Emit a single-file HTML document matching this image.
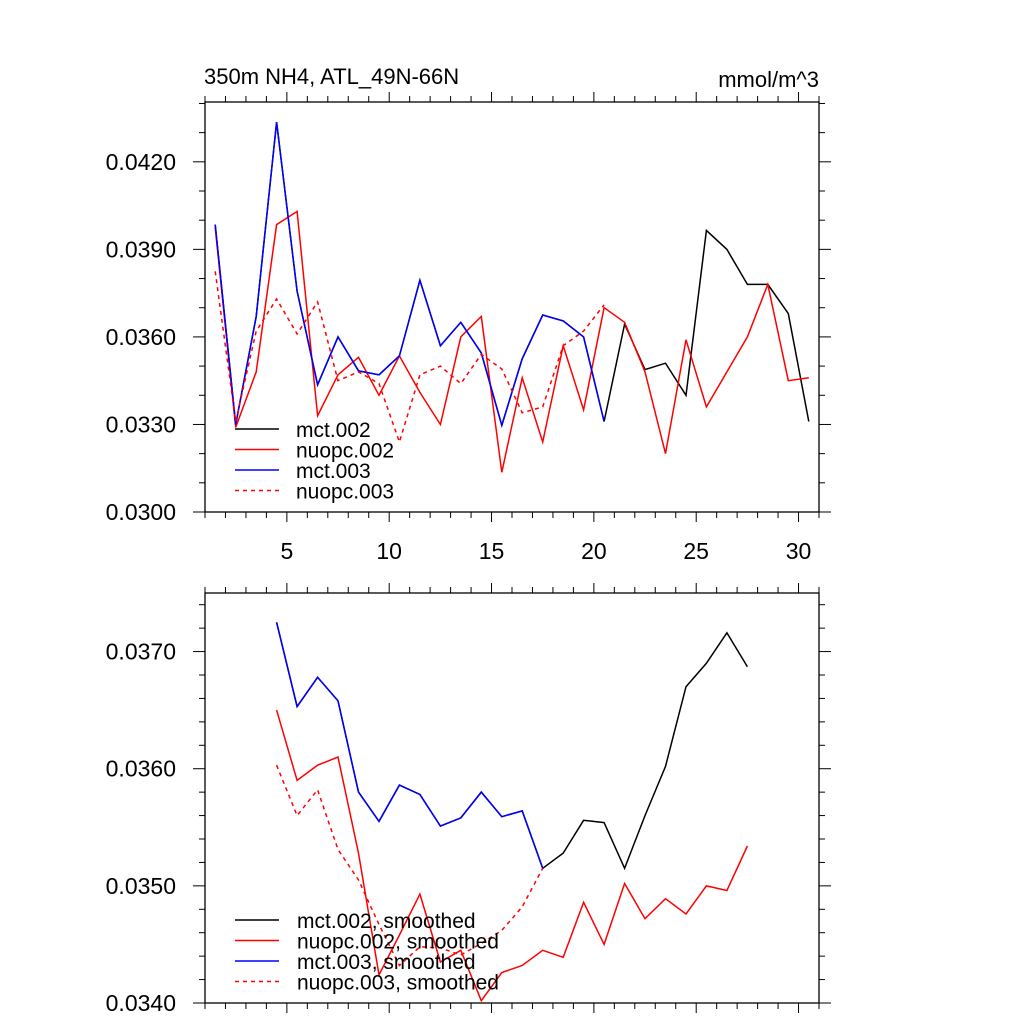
<!DOCTYPE html>
<html><head><meta charset="utf-8"><style>
body{margin:0;background:#fff}
svg{display:block}
text{font-family:"Liberation Sans",sans-serif;fill:#000}
</style></head><body>
<svg id="c" width="1024" height="1024" viewBox="0 0 1024 1024"></svg>
<script>
const xsTop = [1.5,2.5,3.5,4.5,5.5,6.5,7.5,8.5,9.5,10.5,11.5,12.5,13.5,14.5,15.5,16.5,17.5,18.5,19.5,20.5,21.5,22.5,23.5,24.5,25.5,26.5,27.5,28.5,29.5,30.5];
const mct002 = [0.03985,0.0330,0.0367,0.04336,0.03757,0.03436,0.0360,0.03484,0.0347,0.03535,0.03794,0.0357,0.0365,0.03545,0.03297,0.03525,0.03675,0.03655,0.0360,0.0331,0.03644,0.03488,0.0351,0.0340,0.03965,0.0390,0.0378,0.0378,0.0368,0.0331];
const nuopc002 = [0.03975,0.0329,0.0348,0.03985,0.0403,0.0333,0.0347,0.0353,0.0340,0.03535,0.0341,0.0330,0.0360,0.0367,0.03136,0.0346,0.0324,0.0357,0.0335,0.0370,0.0365,0.0348,0.0320,0.0359,0.0336,0.0348,0.0360,0.0378,0.0345,0.0346];
const mct003 = [0.03985,0.0330,0.0367,0.04336,0.03757,0.03436,0.0360,0.03484,0.0347,0.03535,0.03794,0.0357,0.0365,0.03545,0.03297,0.03525,0.03675,0.03655,0.0360,0.0331];
const nuopc003 = [0.03825,0.0331,0.0362,0.0373,0.0361,0.0372,0.0345,0.0348,0.0344,0.0324,0.0347,0.0350,0.0344,0.0354,0.0349,0.0334,0.0336,0.0357,0.0362,0.0371];
const xsBot = [4.5,5.5,6.5,7.5,8.5,9.5,10.5,11.5,12.5,13.5,14.5,15.5,16.5,17.5,18.5,19.5,20.5,21.5,22.5,23.5,24.5,25.5,26.5,27.5];
const mct002s = [0.03725,0.03653,0.03678,0.03658,0.0358,0.03555,0.03586,0.03578,0.03551,0.03558,0.0358,0.03559,0.03564,0.03515,0.03528,0.03556,0.03554,0.03515,0.0356,0.03602,0.0367,0.0369,0.03716,0.03687];
const nuopc002s = [0.0365,0.0359,0.03603,0.0361,0.03528,0.03424,0.03458,0.03493,0.03435,0.03445,0.03402,0.03426,0.03432,0.03445,0.03439,0.03486,0.0345,0.03502,0.03472,0.03489,0.03476,0.035,0.03496,0.03534];
const mct003s = [0.03725,0.03653,0.03678,0.03658,0.0358,0.03555,0.03586,0.03578,0.03551,0.03558,0.0358,0.03559,0.03564,0.03515];
const nuopc003s = [0.03603,0.0356,0.03582,0.03531,0.03505,0.03467,0.03432,0.03448,0.03447,0.03441,0.03451,0.03462,0.03482,0.03515];
const xTicks = [5,10,15,20,25,30];
const yTicksTop = [0.030,0.033,0.036,0.039,0.042];
const yLabelsTop = ["0.0300","0.0330","0.0360","0.0390","0.0420"];
const yTicksBot = [0.034,0.035,0.036,0.037];
const yLabelsBot = ["0.0340","0.0350","0.0360","0.0370"];

const svg=document.getElementById('c');const NS='http://www.w3.org/2000/svg';
function mk(t,a,p){const e=document.createElementNS(NS,t);for(const k in a)e.setAttribute(k,a[k]);(p||svg).appendChild(e);return e;}
const L=205,R=819;
function xs(v){return L+(v-1)/30*(R-L);}
function panel(name,top,bot,ymin,ymax,yMinorStep,yt,yl,series,legend,legY,legTextX,showX,legFont){
  const g=mk('g',{});
  
  
  const ys=v=>bot-(v-ymin)/(ymax-ymin)*(bot-top);
  const fr=mk('rect',{x:L,y:top,width:R-L,height:bot-top,fill:'none',stroke:'#000','stroke-width':1.3},g);
  
  for(let i=1;i<=31;i++){const x=xs(i);const maj=i%5==0;
    mk('line',{x1:x,x2:x,y1:bot,y2:bot+(maj?10:6),stroke:'#000','stroke-width':1},g);
    mk('line',{x1:x,x2:x,y1:top,y2:top-(maj?10:6),stroke:'#000','stroke-width':1},g);}
  const n=Math.round((ymax-ymin)/yMinorStep);
  for(let i=0;i<=n;i++){const v=ymin+i*yMinorStep;const y=ys(v);if(y<top-0.5)continue;
    const maj=yt.some(t=>Math.abs(t-v)<1e-7);
    mk('line',{x1:L,x2:L-(maj?12:6),y1:y,y2:y,stroke:'#000','stroke-width':1},g);
    mk('line',{x1:R,x2:R+(maj?12:6),y1:y,y2:y,stroke:'#000','stroke-width':1},g);}
  yt.forEach((v,i)=>{const t=mk('text',{x:176,y:ys(v)+8,'text-anchor':'end','font-size':23},g);t.textContent=yl[i];
    });
  if(showX)xTicks.forEach(v=>{const t=mk('text',{x:xs(v),y:bot+47,'text-anchor':'middle','font-size':23},g);t.textContent=v;
    });
  series.forEach(s=>{const pts=s.y.map((v,i)=>xs(s.x[i]).toFixed(1)+','+ys(v).toFixed(1)).join(' ');
    const a={points:pts,fill:'none',stroke:s.c,'stroke-width':1.5};if(s.d)a['stroke-dasharray']='4,4';
    const pl=mk('polyline',a,g);});
  legend.forEach((s,i)=>{const y=legY+i*20.5;
    const a={x1:235,x2:279,y1:y,y2:y,stroke:s.c,'stroke-width':1.5};if(s.d)a['stroke-dasharray']='4,4';
    const ln=mk('line',a,g);
    const t=mk('text',{x:legTextX,y:y+8,'font-size':legFont},g);t.textContent=s.label;
    });
}
const topSeries=[{n:'line-mct-002',x:xsTop,y:mct002,c:'#000'},{n:'line-nuopc-002',x:xsTop,y:nuopc002,c:'#f00'},{n:'line-mct-003',x:xsTop.slice(0,20),y:mct003,c:'#00f'},{n:'line-nuopc-003',x:xsTop.slice(0,20),y:nuopc003,c:'#f00',d:1}];
panel('top-panel',102,512,0.030,0.04405,0.001,yTicksTop,yLabelsTop,topSeries,
 [{c:'#000',label:'mct.002'},{c:'#f00',label:'nuopc.002'},{c:'#00f',label:'mct.003'},{c:'#f00',d:1,label:'nuopc.003'}],429,296,true,21);
const botSeries=[{n:'line-mct-002-smoothed',x:xsBot,y:mct002s,c:'#000'},{n:'line-nuopc-002-smoothed',x:xsBot,y:nuopc002s,c:'#f00'},{n:'line-mct-003-smoothed',x:xsBot.slice(0,14),y:mct003s,c:'#00f'},{n:'line-nuopc-003-smoothed',x:xsBot.slice(0,14),y:nuopc003s,c:'#f00',d:1}];
panel('bottom-panel',593,1003,0.034,0.0375,0.0002,yTicksBot,yLabelsBot,botSeries,
 [{c:'#000',label:'mct.002, smoothed'},{c:'#f00',label:'nuopc.002, smoothed'},{c:'#00f',label:'mct.003, smoothed'},{c:'#f00',d:1,label:'nuopc.003, smoothed'}],920,297,false,21);
const t1=mk('text',{x:204,y:84,'font-size':22});t1.textContent='350m NH4, ATL_49N-66N';

const t2=mk('text',{x:819,y:87,'font-size':22,'text-anchor':'end'});t2.textContent='mmol/m^3';

</script>
</body></html>
